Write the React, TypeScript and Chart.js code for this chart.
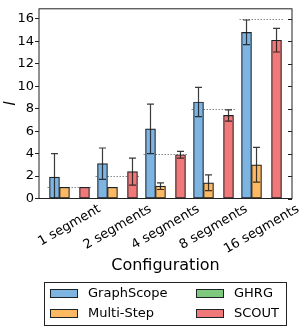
import React, { useEffect, useRef } from "react";
import { Chart, registerables } from "chart.js";

Chart.register(...registerables);

const categories = ["1 segment", "2 segments", "4 segments", "8 segments", "16 segments"];
const referenceLevels = [1, 2, 4, 8, 16];
const seriesNames = ["GraphScope", "Multi-Step", "GHRG", "SCOUT"];
const graphScope = [1.9, 3.1, 6.2, 8.6, 14.8];
const graphScopeErr = [2.1, 1.4, 2.2, 1.3, 1.1];
const multiStep = [1.0, 1.0, 1.1, 1.4, 3.0];
const multiStepErr = [0, 0, 0.3, 0.7, 1.55];
const ghrg = [0, 0, 0, 0, 0];
const ghrgErr = [0, 0, 0, 0, 0];
const scout = [1.0, 2.4, 3.9, 7.4, 14.1];
const scoutErr = [0, 1.2, 0.3, 0.5, 1.05];
const yTicks = [0, 2, 4, 6, 8, 10, 12, 14, 16];

const seriesValues = [graphScope, multiStep, ghrg, scout];
const seriesErrors = [graphScopeErr, multiStepErr, ghrgErr, scoutErr];
const colors = ["#7db4e2", "#fdb862", "#7ec97e", "#f07878"];
const EDGE = "#1e2328";
const FONT = '"DejaVu Sans", sans-serif';

const customPlugin = {
  id: "customDraw",
  beforeDatasetsDraw(chart: any) {
    const { ctx, scales } = chart;
    const xs = scales.x;
    const ys = scales.y;
    ctx.save();
    ctx.strokeStyle = "#8a8a8a";
    ctx.lineWidth = 1;
    ctx.setLineDash([1.5, 1.5]);
    referenceLevels.forEach((lvl, i) => {
      const cx = xs.getPixelForValue(i);
      const y = Math.round(ys.getPixelForValue(lvl)) + 0.5;
      ctx.beginPath();
      ctx.moveTo(cx - 22, y);
      ctx.lineTo(cx + 22, y);
      ctx.stroke();
    });
    ctx.restore();
  },
  afterDatasetsDraw(chart: any) {
    const { ctx, scales, chartArea } = chart;
    const ys = scales.y;
    ctx.save();
    ctx.beginPath();
    ctx.rect(chartArea.left, chartArea.top, chartArea.right - chartArea.left, chartArea.bottom - chartArea.top);
    ctx.clip();
    ctx.strokeStyle = "rgba(25,25,25,0.85)";
    ctx.lineWidth = 1.2;
    seriesValues.forEach((vals, d) => {
      const meta = chart.getDatasetMeta(d);
      vals.forEach((v, i) => {
        const e = seriesErrors[d][i];
        if (!e) return;
        const el = meta.data[i];
        const x = el.x;
        const yt = ys.getPixelForValue(v + e);
        const yb = ys.getPixelForValue(v - e);
        ctx.beginPath();
        ctx.moveTo(x, yt);
        ctx.lineTo(x, yb);
        ctx.moveTo(x - 3.5, yt);
        ctx.lineTo(x + 3.5, yt);
        ctx.moveTo(x - 3.5, yb);
        ctx.lineTo(x + 3.5, yb);
        ctx.stroke();
      });
    });
    ctx.restore();
  },
  afterDraw(chart: any) {
    const { ctx, scales, chartArea } = chart;
    const xs = scales.x;
    const ys = scales.y;
    const { left, right, top, bottom } = chartArea;
    ctx.save();
    // frame
    ctx.strokeStyle = "#222";
    ctx.lineWidth = 1;
    ctx.strokeRect(left, top, right - left, bottom - top);
    // right ticks (inward)
    ctx.beginPath();
    yTicks.forEach((t) => {
      const y = Math.round(ys.getPixelForValue(t)) + 0.5;
      ctx.moveTo(right - 4, y);
      ctx.lineTo(right, y);
    });
    ctx.stroke();
    // x labels rotated
    ctx.fillStyle = "#000";
    ctx.font = `13px ${FONT}`;
    ctx.textAlign = "center";
    ctx.textBaseline = "middle";
    const ang = (30 * Math.PI) / 180;
    categories.forEach((lab, i) => {
      const cx = xs.getPixelForValue(i);
      const w = ctx.measureText(lab).width;
      const h = 13;
      const bh = w * Math.sin(ang) + h * Math.cos(ang);
      const cy = bottom + 4 + bh / 2;
      ctx.save();
      ctx.translate(cx, cy);
      ctx.rotate(-ang);
      ctx.fillText(lab, 0, 0);
      ctx.restore();
    });
    // x title
    ctx.font = `16px ${FONT}`;
    ctx.fillText("Configuration", (left + right) / 2, 266);
    // y title
    ctx.save();
    ctx.translate(11, (top + bottom) / 2);
    ctx.rotate(-Math.PI / 2);
    ctx.font = `italic 16px ${FONT}`;
    ctx.fillText("l", 0, 0);
    ctx.restore();
    // legend
    ctx.strokeStyle = "#222";
    ctx.lineWidth = 1;
    ctx.strokeRect(44.5, 282.5, 242, 43);
    const colX = [50, 196];
    const rowY = [293.5, 313.5];
    ctx.font = `13px ${FONT}`;
    ctx.textAlign = "left";
    seriesNames.forEach((name, k) => {
      const c = Math.floor(k / 2);
      const r = k % 2;
      const sx = colX[c];
      const sy = rowY[r];
      ctx.fillStyle = colors[k];
      ctx.fillRect(sx, sy - 4.5, 28, 9);
      ctx.strokeStyle = EDGE;
      ctx.strokeRect(sx + 0.5, sy - 4.5 + 0.5, 27, 8);
      ctx.fillStyle = "#000";
      ctx.fillText(name, sx + 38, sy);
    });
    ctx.restore();
  },
};

export default function App() {
  const ref = useRef<HTMLCanvasElement | null>(null);
  useEffect(() => {
    if (!ref.current) return;
    const chart = new Chart(ref.current, {
      type: "bar",
      data: {
        datasets: seriesNames.map((name, k) => ({
          label: name,
          data: seriesValues[k].map((v, i) => ({ x: i, y: v })),
          backgroundColor: colors[k],
          borderColor: EDGE,
          borderWidth: 1.2,
          borderSkipped: false,
          barThickness: 10,
        })),
      } as any,
      options: {
        responsive: false,
        maintainAspectRatio: false,
        animation: false,
        layout: { padding: { top: 4, right: 15, bottom: 131.5, left: 0 } },
        plugins: { legend: { display: false }, tooltip: { enabled: false } },
        scales: {
          x: { type: "linear", display: false, offset: false, min: -0.635, max: 4.635 },
          y: {
            min: 0,
            max: 16.9,
            afterFit: (s: any) => {
              s.width = 39;
            },
            afterBuildTicks: (s: any) => {
              s.ticks = yTicks.map((v) => ({ value: v }));
            },
            ticks: { font: { family: FONT, size: 13 }, color: "#000", padding: 1 },
            grid: { drawOnChartArea: false, drawTicks: true, tickLength: 4, color: "#222" },
            border: { display: false },
          },
        },
      } as any,
      plugins: [customPlugin],
    });
    return () => chart.destroy();
  }, []);
  return (
    <div style={{ position: "fixed", left: 0, top: 0, width: 307, height: 330, background: "#fff" }}>
      <canvas ref={ref} width={307} height={330} style={{ width: 307, height: 330, display: "block" }} />
    </div>
  );
}
